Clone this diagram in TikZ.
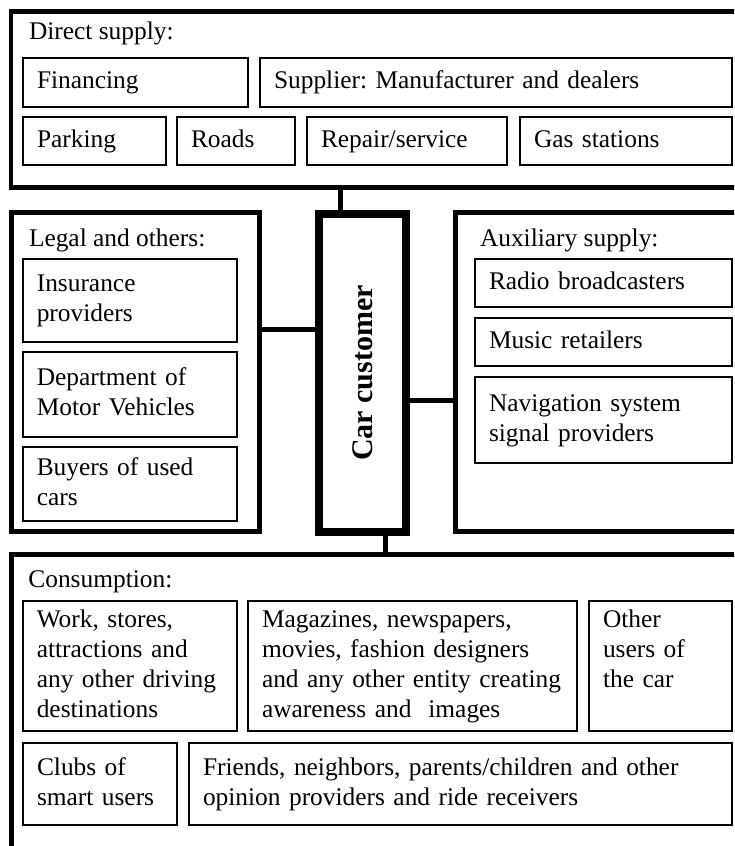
\documentclass[tikz,border=0pt]{standalone}
\usepackage{fontspec}
\setmainfont{Liberation Serif}
\usetikzlibrary{calc}
\frenchspacing
\begin{document}
\begin{tikzpicture}[x=1pt, y=-1pt,
  every node/.style={font=\fontsize{12.7}{15}\selectfont, outer sep=0pt},
  frame/.style={draw, line width=2.4pt, anchor=north west, inner sep=0pt},
  item/.style={draw, line width=0.9pt, anchor=north west, align=left, inner xsep=7pt, inner ysep=0pt,
    execute at begin node=\strut, execute at end node=\strut},
  head/.style={anchor=west, inner sep=0pt},
  link/.style={line width=2.4pt}]
\clip (0,0) rectangle (367,423);
% direct supply
\node[frame, minimum width=379.5pt, minimum height=88pt] (direct) at (5.5,5.75) {};
\node[head] (directhead) at (14.5,16.7) {Direct supply:};
\node[item, text width=98.5pt, minimum height=24.5pt] (fin) at (11.5,29) {Financing};
\node[item, text width=222pt, minimum height=24.5pt] (supp) at (130,29) {Supplier: Manufacturer and dealers};
\node[item, text width=57.5pt, minimum height=24pt] (park) at (11.5,58.5) {Parking};
\node[item, text width=45pt, minimum height=24pt] (roads) at (88.5,58.5) {Roads};
\node[item, text width=86pt, minimum height=24pt] (repair) at (153.5,58.5) {Repair/service};
\node[item, text width=92pt, minimum height=24pt] (gas) at (260,58.5) {Gas stations};
% legal and others
\node[frame, minimum width=123.8pt, minimum height=159.6pt] (legal) at (5.9,106.25) {};
\node[head] (legalhead) at (14.5,120.3) {Legal and others:};
\node[item, text width=93pt, minimum height=41.5pt] (ins) at (11.4,129.6) {Insurance\\providers};
\node[item, text width=93pt, minimum height=42.5pt] (dmv) at (11.4,176) {Department of\\Motor Vehicles};
\node[item, text width=93pt, minimum height=37pt] (used) at (11.4,223.5) {Buyers of used\\cars};
% the customer
\node[draw, line width=3.85pt, minimum width=43.5pt, minimum height=159.2pt, inner sep=0pt] (cust) at (181.15,186.5)
  {\rotatebox{90}{\fontsize{15}{18}\selectfont\bfseries Car customer}};
% auxiliary supply
\node[frame, minimum width=157.1pt, minimum height=159.6pt] (aux) at (227.9,106.25) {};
\node[head] (auxhead) at (240,120.3) {Auxiliary supply:};
\node[item, text width=114.5pt, minimum height=24pt] (radio) at (237.5,129.6) {Radio broadcasters};
\node[item, text width=114.5pt, minimum height=24pt] (music) at (237.5,159) {Music retailers};
\node[item, text width=114.5pt, minimum height=43pt] (nav) at (237.5,188.5) {Navigation system\\signal providers};
% consumption
\node[frame, minimum width=379.1pt, minimum height=162.9pt] (cons) at (5.9,277.1) {};
\node[head] (conshead) at (14.2,291.1) {Consumption:};
\node[item, text width=93pt, minimum height=65pt] (work) at (11.4,300.5)
  {Work, stores,\\attractions and\\any other driving\\destinations};
\node[item, text width=150.5pt, minimum height=65pt] (mag) at (124,300.5)
  {Magazines, newspapers,\\movies, fashion designers\\and any other entity creating\\awareness and~ images};
\node[item, text width=57.5pt, minimum height=65pt] (other) at (294.5,300.5) {Other\\users of\\the car\\\mbox{}};
\node[item, text width=63pt, minimum height=41pt] (clubs) at (11.5,371.5) {Clubs of\\smart users};
\node[item, text width=257.5pt, minimum height=41pt] (friends) at (94.5,371.5)
  {Friends, neighbors, parents/children and other\\opinion providers and ride receivers};
% links to the customer
\path ($(cust.north west)!.25!(cust.north east)$) coordinate (ct);
\draw[link] (ct) -- (ct |- direct.south);
\path ($(cust.north west)!.363!(cust.south west)$) coordinate (cl);
\draw[link] (cl) -- (cl -| legal.east);
\path ($(cust.north east)!.586!(cust.south east)$) coordinate (cr);
\draw[link] (cr) -- (cr -| aux.west);
\path ($(cust.south west)!.767!(cust.south east)$) coordinate (cb);
\draw[link] (cb) -- (cb |- cons.north);
\end{tikzpicture}
\end{document}
